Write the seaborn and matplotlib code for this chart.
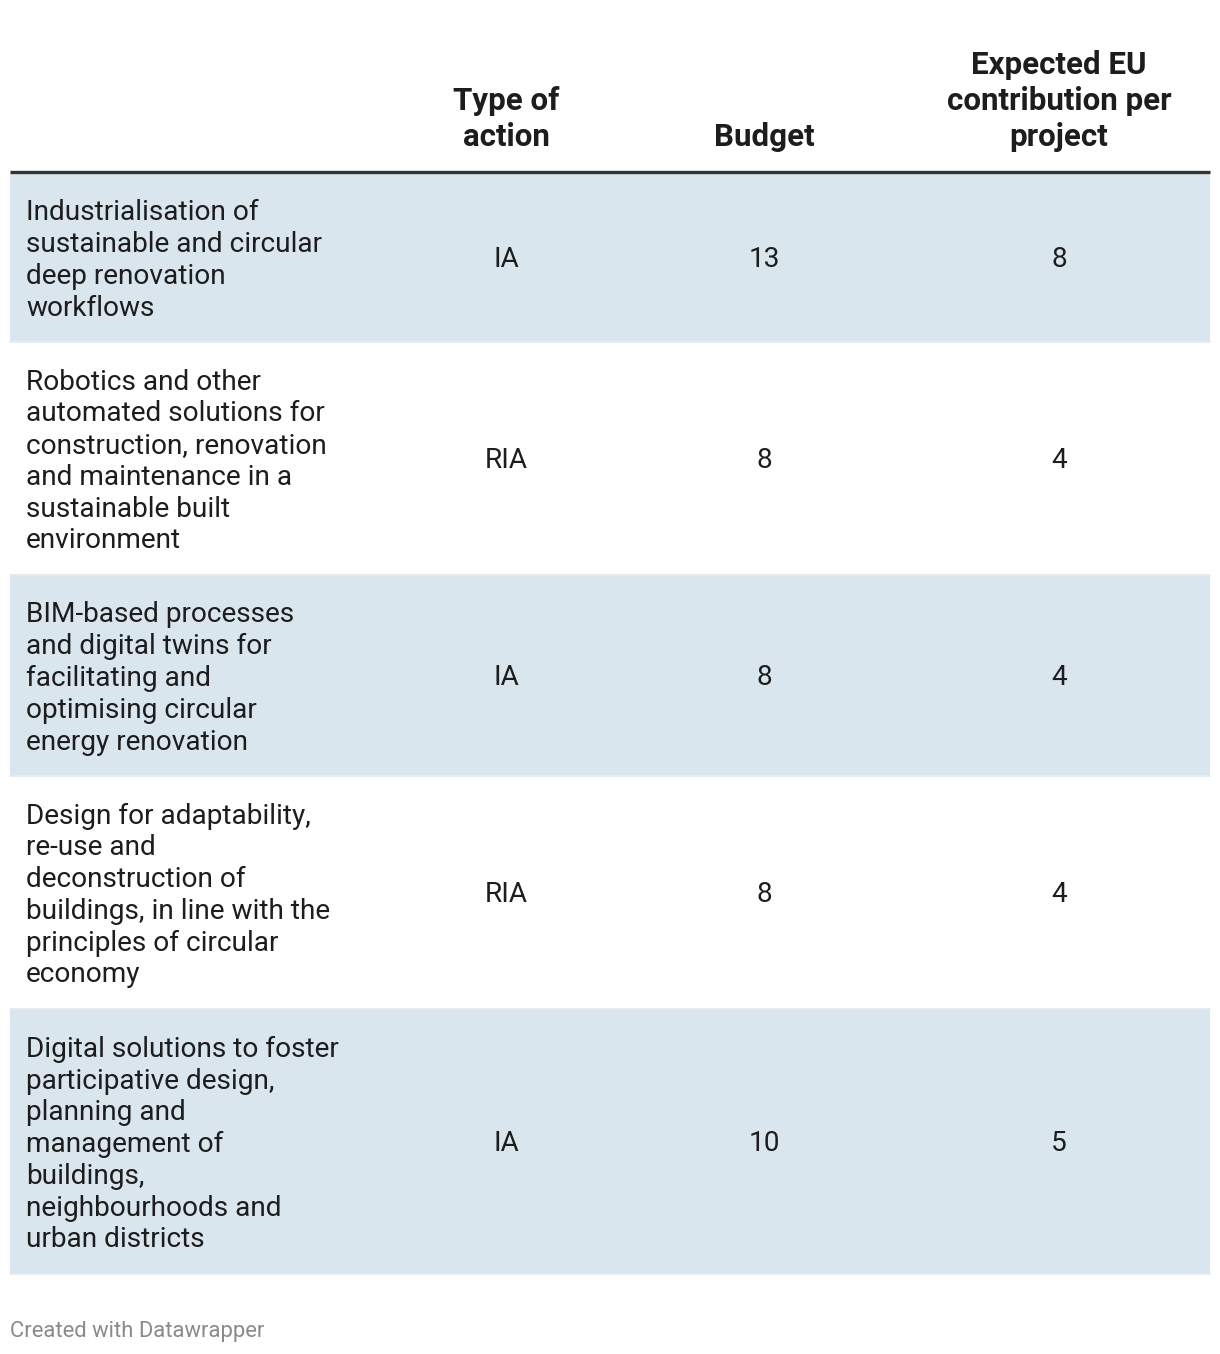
import numpy as np
import pandas as pd
import matplotlib
matplotlib.use("Agg")
import matplotlib.pyplot as plt
import seaborn as sns

headers = ["Type of\naction", "Budget", "Expected EU\ncontribution per\nproject"]
topics = [
    "Industrialisation of\nsustainable and circular\ndeep renovation\nworkflows",
    "Robotics and other\nautomated solutions for\nconstruction, renovation\nand maintenance in a\nsustainable built\nenvironment",
    "BIM-based processes\nand digital twins for\nfacilitating and\noptimising circular\nenergy renovation",
    "Design for adaptability,\nre-use and\ndeconstruction of\nbuildings, in line with the\nprinciples of circular\neconomy",
    "Digital solutions to foster\nparticipative design,\nplanning and\nmanagement of\nbuildings,\nneighbourhoods and\nurban districts",
]
action_type = ["IA", "RIA", "IA", "RIA", "IA"]
budget = [13, 8, 8, 8, 10]
contribution = [8, 4, 4, 4, 5]

df = pd.DataFrame({"topic": topics, "type": action_type,
                   "budget": budget, "contribution": contribution})

sns.set_theme(style="white")
plt.rcParams["font.family"] = ["Roboto", "DejaVu Sans"]

W, H = 1220, 1354
fig = plt.figure(figsize=(W / 100, H / 100), dpi=100)
ax = fig.add_axes([0, 0, 1, 1])
ax.set_xlim(0, W)
ax.set_ylim(H, 0)
ax.axis("off")

x0, x1 = 10, 1210
col_x = [506, 764, 1059]
txt = "#1d1d1d"
shade = "#d9e6ee"

# header
for x, h in zip(col_x, headers):
    ax.text(x, 152, h, ha="center", va="bottom", fontsize=22.5,
            fontweight="bold", color=txt, linespacing=1.255)
ax.plot([x0, x1], [171.5, 171.5], color="#333333", lw=2.4,
        solid_capstyle="butt")

# body rows
y = 173
for i, row in df.iterrows():
    n = row["topic"].count("\n") + 1
    h = 32 * n + 41
    if i % 2 == 0:
        ax.axhspan(y, y + h - 1, xmin=x0 / W, xmax=x1 / W, color=shade, lw=0)
    ax.plot([x0, x1], [y + h - 0.5, y + h - 0.5], color="#e3e8eb", lw=1.2)
    yc = y + (h - 1) / 2
    ax.text(26, yc + 3.5, row["topic"], ha="left", va="center", fontsize=20.2,
            color=txt, linespacing=1.225)
    for x, v in zip(col_x, [row["type"], row["budget"], row["contribution"]]):
        ax.text(x, yc + 10, str(v), ha="center", va="baseline", fontsize=20.2,
                color=txt)
    y += h

ax.text(10, 1331, "Created with Datawrapper", ha="left", va="center",
        fontsize=15.8, color="#8a8a8a")

fig.savefig("out.png", dpi=100, facecolor="white")
